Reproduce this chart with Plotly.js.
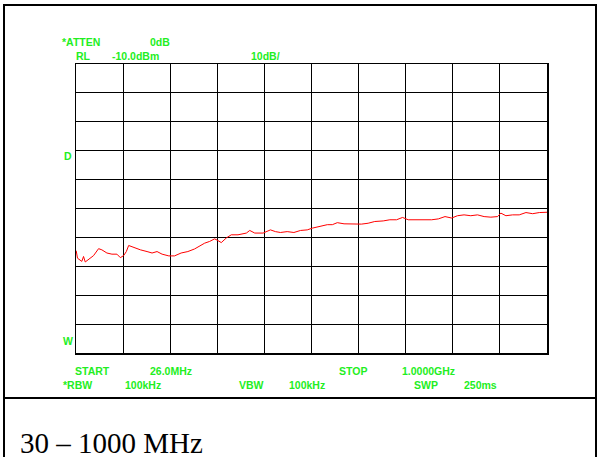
<!DOCTYPE html>
<html>
<head>
<meta charset="utf-8">
<script src="https://cdn.plot.ly/plotly-3.0.1.min.js"></script>
<style>
html,body{margin:0;padding:0;background:#fff;}
#chart{width:597px;height:457px;}
</style>
</head>
<body>
<div id="chart"></div>
<script>
// Frequency (MHz) and level (dBm)
const freqMHz = [26.4, 29.1, 38.0, 41.6, 45.1, 51.9, 62.3, 72.7, 79.5, 89.9,
  100.3, 110.6, 117.7, 124.5, 130.1, 134.9, 145.3, 159.2, 172.9, 183.3,
  193.6, 204.0, 217.9, 229.7, 243.4, 257.3, 271.2, 284.9, 292.0, 302.3,
  312.7, 319.6, 326.4, 336.8, 347.1, 361.0, 378.3, 385.3, 395.7, 412.9,
  428.1, 438.4, 448.8, 462.7, 476.6, 490.3, 504.2, 514.6, 528.5, 545.7,
  556.1, 566.4, 580.3, 594.0, 608.0, 616.2, 630.1, 643.8, 661.3, 675.0,
  688.8, 701.3, 713.1, 730.3, 747.5, 761.5, 775.3, 789.1, 802.9, 814.8,
  828.5, 842.4, 856.3, 870.0, 883.8, 897.8, 904.6, 915.0, 928.9, 942.6,
  956.5, 970.4, 984.1, 1000.0];
const levelDBm = [-74.6, -77.2, -78.3, -76.6, -78.5, -77.7, -76.3, -73.9, -74.3, -75.4,
  -75.8, -75.8, -77.0, -76.3, -74.9, -72.8, -73.5, -74.3, -74.9, -75.4,
  -74.9, -75.8, -76.4, -76.4, -75.4, -74.9, -74.0, -72.6, -72.0, -71.4,
  -70.5, -71.1, -71.8, -70.2, -69.1, -69.1, -68.5, -67.6, -68.5, -68.5,
  -67.4, -68.0, -68.3, -68.0, -68.3, -67.6, -67.4, -66.8, -66.2, -65.6,
  -65.6, -64.9, -65.3, -65.3, -65.3, -65.4, -65.1, -64.5, -64.3, -63.9,
  -63.9, -63.1, -63.9, -63.9, -63.9, -63.9, -63.6, -62.8, -63.3, -62.5,
  -62.2, -62.5, -62.2, -62.8, -63.0, -62.8, -61.6, -62.5, -62.2, -62.2,
  -61.4, -61.8, -61.4, -61.3];

const startMHz = 26, stopMHz = 1000;
const refLevel = -10, dbPerDiv = 10, nDiv = 10;

// Instrument annotation texts
const topLabels = ["*ATTEN", "0dB", "RL", "-10.0dBm", "10dB/"];
const sideLabels = ["D", "W"];
const bottomLabels = ["START", "26.0MHz", "STOP", "1.0000GHz",
                      "*RBW", "100kHz", "VBW", "100kHz", "SWP", "250ms"];
const captionText = "30 – 1000 MHz";

const W = 597, H = 457;
const M = {l: 76, r: 50, t: 64, b: 104};
const PW = W - M.l - M.r, PH = H - M.t - M.b;
const px = x => (x - M.l) / PW;
const py = y => (H - M.b - y) / PH;

const green = '#22ee22';
const gfont = {family: 'Liberation Sans, Arial, sans-serif', size: 10.5, color: green, weight: 'bold'};

const labelPos = [
  [60, 41.5], [148, 41.5], [74, 56], [110, 56], [249, 56]
];
const sidePos = [[62, 156], [61, 341]];
const bottomPos = [
  [73, 371], [148, 371], [336.5, 371], [400, 371],
  [60.5, 385], [123, 385], [236.5, 385], [286.5, 385], [411.5, 385], [461.5, 385]
];

const annotations = [];
function addLabels(list, pos) {
  list.forEach((t, i) => annotations.push({
    text: '<b>' + t + '</b>', xref: 'paper', yref: 'paper',
    x: px(pos[i][0]), y: py(pos[i][1]), xanchor: 'left', yanchor: 'middle',
    showarrow: false, font: gfont
  }));
}
addLabels(topLabels, labelPos);
addLabels(sideLabels, sidePos);
addLabels(bottomLabels, bottomPos);
annotations.push({
  text: captionText, xref: 'paper', yref: 'paper',
  x: px(18), y: py(443), xanchor: 'left', yanchor: 'middle', showarrow: false,
  font: {family: 'Liberation Serif, Times New Roman, serif', size: 29, color: '#000'}
});

const trace = {
  x: freqMHz, y: levelDBm, type: 'scatter', mode: 'lines',
  line: {color: '#ff0000', width: 1}, hoverinfo: 'skip'
};

const frame = (x0, y0, x1, y1) => ({type: 'line', xref: 'paper', yref: 'paper',
  x0: px(x0), x1: px(x1), y0: py(y0), y1: py(y1),
  line: {color: '#000', width: 2}, layer: 'above'});

const layout = {
  width: W, height: H, margin: M, showlegend: false,
  paper_bgcolor: '#fff', plot_bgcolor: '#fff',
  xaxis: {range: [startMHz, stopMHz], tick0: startMHz, dtick: (stopMHz - startMHz) / nDiv,
    showgrid: true, gridcolor: '#000', gridwidth: 1, showticklabels: false, ticks: '',
    zeroline: false, showline: true, linecolor: '#000', linewidth: 1.5, mirror: true},
  yaxis: {range: [refLevel - dbPerDiv * nDiv, refLevel], tick0: refLevel, dtick: dbPerDiv,
    showgrid: true, gridcolor: '#000', gridwidth: 1, showticklabels: false, ticks: '',
    zeroline: false, showline: true, linecolor: '#000', linewidth: 1.5, mirror: true},
  annotations: annotations,
  shapes: [
    frame(3, 5, 597, 5),
    frame(4, 4, 4, 457),
    frame(596, 4, 596, 457),
    frame(3, 398, 597, 398)
  ]
};

Plotly.newPlot('chart', [trace], layout, {staticPlot: true, displayModeBar: false});
</script>
</body>
</html>
